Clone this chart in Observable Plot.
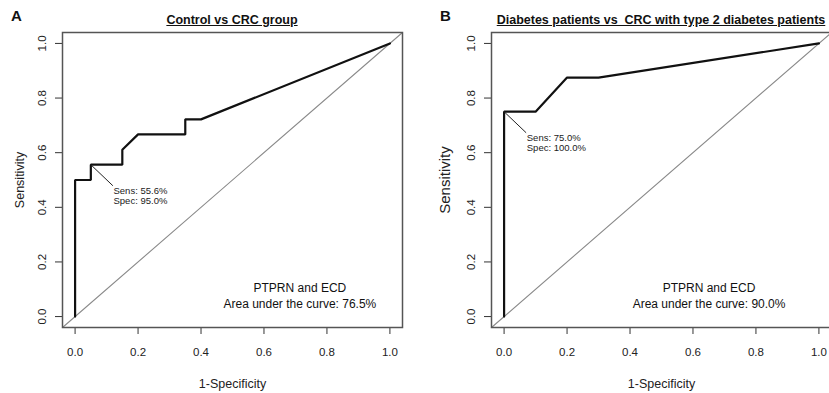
<!DOCTYPE html>
<html>
<head>
<meta charset="utf-8">
<script src="https://cdn.jsdelivr.net/npm/d3@7"></script>
<script src="https://cdn.jsdelivr.net/npm/@observablehq/plot@0.6"></script>
<style>
  html, body { margin: 0; padding: 0; background: #fff; overflow: hidden; }
  #wrap { position: relative; width: 829px; height: 393px; overflow: hidden; font-family: "Liberation Sans", Arial, sans-serif; color: #111; }
  .panel { position: absolute; top: 0; width: 415px; }
  .panel svg { max-width: none !important; }
  .letter { position: absolute; font-weight: bold; font-size: 15px; }
  .title { position: absolute; font-weight: bold; font-size: 12.5px; text-decoration: underline; white-space: pre; transform: translateX(-50%); }
</style>
</head>
<body>
<div id="wrap"></div>
<script>
// ---- data ----
const panelLetters = ["A", "B"];
const panelTitles = ["Control vs CRC group", "Diabetes patients vs  CRC with type 2 diabetes patients"];
// ROC curve A: 1-Specificity and Sensitivity
const rocA_fpr  = [0, 0,   0.05, 0.05,  0.15,  0.15,  0.20,  0.35,  0.35,  0.40,  1.0];
const rocA_sens = [0, 0.5, 0.5,  0.556, 0.556, 0.611, 0.667, 0.667, 0.722, 0.722, 1.0];
// ROC curve B
const rocB_fpr  = [0, 0,    0.10, 0.20,  0.30,  1.0];
const rocB_sens = [0, 0.75, 0.75, 0.875, 0.875, 1.0];
// best threshold points
const bestA = {fpr: 0.05, sens: 0.556, label: ["Sens: 55.6%", "Spec: 95.0%"]};
const bestB = {fpr: 0.0,  sens: 0.75,  label: ["Sens: 75.0%", "Spec: 100.0%"]};
const aucLabels = [["PTPRN and ECD", "Area under the curve: 76.5%"], ["PTPRN and ECD", "Area under the curve: 90.0%"]];
const tickValues = [0, 0.2, 0.4, 0.6, 0.8, 1.0];
const xLabel = "1-Specificity";
const yLabel = "Sensitivity";

const font = "Liberation Sans, Arial, sans-serif";

function makePanel(fpr, sens, best, auc, aucX, yLabSize, yLabDx) {
  const curve = fpr.map((f, i) => ({x: f, y: sens[i]}));
  const diag = [{x: -0.04, y: -0.04}, {x: 1.04, y: 1.04}];
  const seg = [{x1: best.fpr, y1: best.sens, x2: best.fpr + 0.07, y2: best.sens - 0.077}];
  const ann = best.label.map((t, i) => ({x: best.fpr + 0.072, y: best.sens - 0.095 - i * 0.037, t}));
  const aucTxt = auc.map((t, i) => ({x: aucX, y: 0.103 - i * 0.056, t}));
  return Plot.plot({
    width: 415, height: 393,
    marginLeft: 62, marginRight: 13, marginTop: 32, marginBottom: 66,
    style: {fontFamily: font, fontSize: "11px", color: "#222", background: "transparent"},
    x: {domain: [-0.04, 1.04]},
    y: {domain: [-0.04, 1.04]},
    marks: [
      Plot.axisX(tickValues, {tickSize: 7, tickFormat: () => "", label: null, stroke: "#333"}),
      Plot.axisY(tickValues, {tickSize: 7, tickFormat: () => "", label: null, stroke: "#333"}),
      Plot.text(tickValues, {x: d => d, frameAnchor: "bottom", dy: 25, text: d => d.toFixed(1), fontSize: 11.5, fill: "#222", lineAnchor: "middle"}),
      Plot.text(tickValues, {y: d => d, frameAnchor: "left", dx: -20, rotate: -90, text: d => d.toFixed(1), fontSize: 11.5, fill: "#222", lineAnchor: "middle", textAnchor: "middle"}),
      Plot.text([xLabel], {frameAnchor: "bottom", dy: 56, text: d => d, fontSize: 12.5, fill: "#222", lineAnchor: "middle"}),
      Plot.text([yLabel], {frameAnchor: "left", dx: yLabDx, rotate: -90, text: d => d, fontSize: yLabSize, fill: "#222", lineAnchor: "middle", textAnchor: "middle"}),
      Plot.line(diag, {x: "x", y: "y", stroke: "#8a8a8a", strokeWidth: 1.1}),
      Plot.line(curve, {x: "x", y: "y", stroke: "#111", strokeWidth: 2.2, strokeLinejoin: "miter"}),
      Plot.link(seg, {x1: "x1", y1: "y1", x2: "x2", y2: "y2", stroke: "#222", strokeWidth: 1}),
      Plot.text(ann, {x: "x", y: "y", text: "t", textAnchor: "start", fontSize: 9.5, fill: "#222"}),
      Plot.text(aucTxt, {x: "x", y: "y", text: "t", textAnchor: "middle", fontSize: 12, fill: "#111"}),
      Plot.frame({stroke: "#555", strokeWidth: 1.5})
    ]
  });
}

const wrap = document.getElementById("wrap");
const specs = [
  {left: 0, fpr: rocA_fpr, sens: rocA_sens, best: bestA, aucX: 0.714, yLabSize: 12.5, yLabDx: -43},
  {left: 429, fpr: rocB_fpr, sens: rocB_sens, best: bestB, aucX: 0.651, yLabSize: 15, yLabDx: -46}
];
specs.forEach((s, i) => {
  const div = document.createElement("div");
  div.className = "panel";
  div.style.left = s.left + "px";
  div.appendChild(makePanel(s.fpr, s.sens, s.best, aucLabels[i], s.aucX, s.yLabSize, s.yLabDx));
  wrap.appendChild(div);
  const letter = document.createElement("div");
  letter.className = "letter";
  letter.textContent = panelLetters[i];
  letter.style.left = (s.left + 11) + "px";
  letter.style.top = "7px";
  wrap.appendChild(letter);
  const title = document.createElement("div");
  title.className = "title";
  title.textContent = panelTitles[i];
  title.style.left = (s.left + 232) + "px";
  title.style.top = "13px";
  wrap.appendChild(title);
});
</script>
</body>
</html>
